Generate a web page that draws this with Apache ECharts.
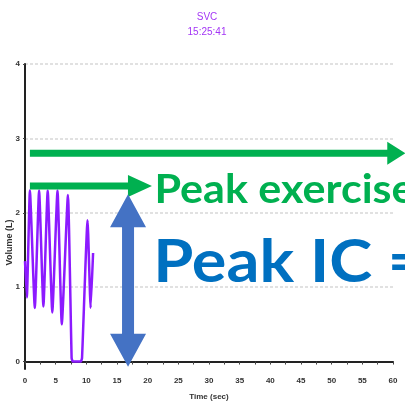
<!DOCTYPE html>
<html>
<head>
<meta charset="utf-8">
<script src="https://cdn.jsdelivr.net/npm/echarts@6/dist/echarts.min.js"></script>
<style>html,body{margin:0;padding:0;background:#fff}#c{width:405px;height:404px}</style>
</head>
<body>
<div id="c"></div>
<script>
// --- data ---
const titleText = 'SVC';
const timeStamp = '15:25:41';
const timeSec = [0, 0.3, 0.8, 1.6, 2.3, 3.0, 3.7, 4.45, 5.3, 6.0, 7.0, 7.6, 7.8, 9.1, 9.3, 10.2, 10.7, 11.1];
const volumeL = [1.35, 0.86, 2.3, 0.72, 2.3, 0.74, 2.3, 0.66, 2.3, 0.5, 2.24, 0.05, 0, 0, 0.05, 1.9, 0.72, 1.46];
const yTicks = [0, 1, 2, 3, 4];
const xAxisName = 'Time (sec)';
const yAxisName = 'Volume (L)';
const label1 = 'Peak exercise';
const label2 = 'Peak IC =';
// annotation anchors in data units [time, volume]
const upperArrowFrom = [0.8, 2.8], upperArrowTo = [62.0, 2.8];
const lowerArrowFrom = [0.8, 2.36], lowerArrowTo = [20.7, 2.36];
const icArrowTop = [16.8, 2.25], icArrowBottom = [16.8, -0.07];
const label1Baseline = [21.1, 2.145], label2Baseline = [20.9, 1.083];
const yNameAnchor = [-2.6, 1.6];

const chart = echarts.init(document.getElementById('c'));
const series = timeSec.map((t, i) => [t, volumeL[i]]);
const axisFont = {fontSize: 8, fontWeight: 'bold', color: '#333', fontFamily: 'Liberation Sans'};
chart.setOption({
  animation: false,
  title: {
    text: titleText + '\n' + timeStamp, left: 202, top: 5, textAlign: 'center',
    textStyle: {fontSize: 10, fontWeight: 'normal', color: '#a335f5', lineHeight: 15, fontFamily: 'Liberation Sans'}
  },
  grid: {left: 25, right: 12, top: 64, bottom: 35, outerBoundsMode: 'none', containLabel: false},
  xAxis: {
    type: 'value', min: 0, max: 60, interval: 5,
    name: xAxisName, nameLocation: 'middle', nameGap: 24,
    nameTextStyle: axisFont,
    axisLine: {lineStyle: {color: '#222', width: 2}},
    axisTick: {length: 3, lineStyle: {color: '#444'}},
    minorTick: {show: true, splitNumber: 2, length: 3, lineStyle: {color: '#444'}},
    axisLabel: Object.assign({margin: 8}, axisFont),
    splitLine: {show: false}
  },
  yAxis: {
    type: 'value', min: -0.1, max: 4,
    axisLine: {show: true, lineStyle: {color: '#222', width: 2}},
    axisTick: {show: true, length: 2, customValues: yTicks, lineStyle: {color: '#444'}},
    axisLabel: Object.assign({margin: 5, customValues: yTicks}, axisFont),
    splitLine: {show: true, lineStyle: {color: '#d8d8d8', width: 1.5, type: [3, 2]}}
  },
  series: [{
    type: 'line', data: series, showSymbol: false, smooth: 0.15,
    lineStyle: {color: '#8c1aff', width: 2.5}
  }]
});

function px(p) { return chart.convertToPixel({gridIndex: 0}, p); }
function hArrow(from, to, shaft, headLen, headHalf, color) {
  const a = px(from), b = px(to);
  const y = a[1], x0 = a[0], x1 = b[0], xb = x1 - headLen;
  return {type: 'polygon', shape: {points: [
    [x0, y - shaft / 2], [xb, y - shaft / 2], [xb, y - headHalf], [x1, y],
    [xb, y + headHalf], [xb, y + shaft / 2], [x0, y + shaft / 2]]},
    style: {fill: color}, z: 100};
}
function vDouble(top, bottom, shaft, headLen, headHalf, color) {
  const a = px(top), b = px(bottom);
  const x = a[0], y0 = a[1], y1 = b[1];
  return {type: 'polygon', shape: {points: [
    [x, y0], [x + headHalf, y0 + headLen], [x + shaft / 2, y0 + headLen],
    [x + shaft / 2, y1 - headLen], [x + headHalf, y1 - headLen], [x, y1],
    [x - headHalf, y1 - headLen], [x - shaft / 2, y1 - headLen],
    [x - shaft / 2, y0 + headLen], [x - headHalf, y0 + headLen]]},
    style: {fill: color}, z: 100};
}
function label(text, base, size, sx, color) {
  const p = px(base);
  return {type: 'text', x: p[0], y: p[1] + 0.195 * size, scaleX: sx, z: 100,
    style: {text: text, fill: color, font: 'bold ' + size + 'px Lato', textAlign: 'left', textVerticalAlign: 'bottom'}};
}
const yn = px(yNameAnchor);
chart.setOption({
  graphic: [
    {type: 'text', x: yn[0], y: yn[1], rotation: Math.PI / 2, z: 100,
      style: {text: yAxisName, fill: '#333', font: 'bold 9px "Liberation Sans"', textAlign: 'center', textVerticalAlign: 'middle'}},
    hArrow(upperArrowFrom, upperArrowTo, 7, 18, 11.5, '#00b050'),
    hArrow(lowerArrowFrom, lowerArrowTo, 7, 24, 11, '#00b050'),
    vDouble(icArrowTop, icArrowBottom, 12, 33, 18, '#4472c4'),
    label(label1, label1Baseline, 41, 1.05, '#00b050'),
    label(label2, label2Baseline, 59, 1.1, '#0070c0')
  ]
});
</script>
</body>
</html>
